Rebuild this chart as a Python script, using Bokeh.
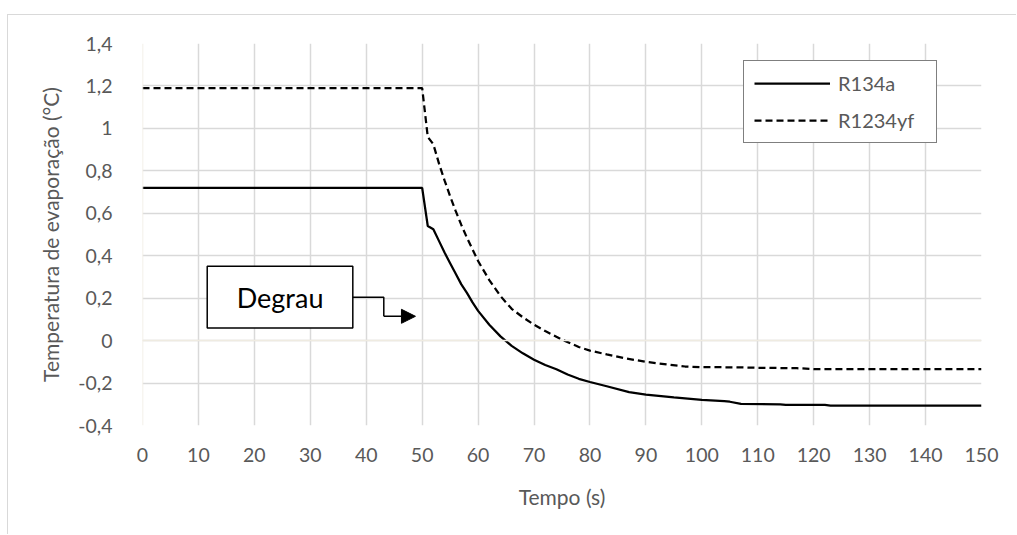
from bokeh.plotting import figure
from bokeh.models import (ColumnDataSource, FixedTicker, Legend, LegendItem, Span,
                          Arrow, NormalHead, Label)
from bokeh.embed import file_html
from bokeh.resources import INLINE

# Evaporation temperature response to a step at t = 50 s
t_r134a = [0, 50, 51, 52, 53, 54, 55, 56, 57, 58, 59, 60, 62, 64, 66, 68, 70, 72, 74,
           76, 78, 80, 83, 87, 90, 95, 100, 104, 105, 107, 114, 115, 122, 123, 150]
temp_r134a = [0.72, 0.72, 0.54, 0.525, 0.47, 0.415, 0.365, 0.315, 0.265, 0.225, 0.18,
              0.14, 0.075, 0.02, -0.025, -0.06, -0.09, -0.115, -0.135, -0.16, -0.18,
              -0.195, -0.215, -0.243, -0.254, -0.268, -0.279, -0.285, -0.288, -0.298,
              -0.300, -0.303, -0.303, -0.306, -0.306]

t_r1234yf = [0, 50, 51, 52, 53, 54, 55, 56, 57, 58, 59, 60, 62, 64, 66, 68, 70, 72, 75,
             78, 80, 83, 86, 90, 94, 97, 100, 107, 110, 117, 120, 150]
temp_r1234yf = [1.19, 1.19, 0.96, 0.925, 0.835, 0.755, 0.68, 0.61, 0.545, 0.485, 0.43,
                0.375, 0.285, 0.21, 0.15, 0.11, 0.075, 0.045, 0.005, -0.03, -0.047,
                -0.065, -0.082, -0.1, -0.113, -0.122, -0.125, -0.126, -0.128, -0.13,
                -0.134, -0.134]

x_ticks = [0, 10, 20, 30, 40, 50, 60, 70, 80, 90, 100, 110, 120, 130, 140, 150]
y_ticks = [-0.4, -0.2, 0, 0.2, 0.4, 0.6, 0.8, 1.0, 1.2, 1.4]
y_tick_labels = ["-0,4", "-0,2", "0", "0,2", "0,4", "0,6", "0,8", "1", "1,2", "1,4"]

FONT = "Lato"
GREY_TEXT = "#595959"
GRID = "#D9D9D9"
AXIS_LINE = "#EFEBE1"

p = figure(width=1009, height=520, x_range=(0, 150), y_range=(-0.4, 1.4),
           output_backend="svg", toolbar_location=None,
           min_border_left=134, min_border_right=36, min_border_top=28,
           min_border_bottom=110)
p.styles = {"margin-left": "7px", "margin-top": "14px",
            "border-left": "1px solid #D9D9D9", "border-top": "1px solid #D9D9D9"}
p.outline_line_color = None
p.background_fill_color = "white"
p.border_fill_color = "white"

# Axes
p.xaxis.ticker = FixedTicker(ticks=x_ticks)
p.yaxis.ticker = FixedTicker(ticks=y_ticks)
p.yaxis.major_label_overrides = dict(zip(y_ticks, y_tick_labels))
for ax in (p.xaxis[0], p.yaxis[0]):
    ax.axis_line_color = None
    ax.major_tick_line_color = None
    ax.minor_tick_line_color = None
    ax.major_label_text_font = FONT
    ax.major_label_text_font_size = "19.5px"
    ax.major_label_text_color = GREY_TEXT
    ax.axis_label_text_font = FONT
    ax.axis_label_text_font_size = "21px"
    ax.axis_label_text_font_style = "normal"
    ax.axis_label_text_color = GREY_TEXT
p.xaxis.axis_label = "Tempo (s)"
p.yaxis.axis_label = "Temperatura de evaporação (°C)"
p.xaxis.major_label_standoff = 16
p.xaxis.axis_label_standoff = 19
p.yaxis.major_label_standoff = 24
p.yaxis.axis_label_standoff = 12

p.xgrid.grid_line_color = GRID
p.ygrid.grid_line_color = GRID
p.xgrid.grid_line_width = 1.5
p.ygrid.grid_line_width = 1.5

# Axis lines crossing at zero
p.add_layout(Span(location=0, dimension="width", line_color=AXIS_LINE, line_width=1.5))
p.add_layout(Span(location=0, dimension="height", line_color=AXIS_LINE, line_width=1.5))

src_a = ColumnDataSource(dict(t=t_r134a, temp=temp_r134a))
src_b = ColumnDataSource(dict(t=t_r1234yf, temp=temp_r1234yf))
r_a = p.line("t", "temp", source=src_a, line_color="black", line_width=2.25)
r_b = p.line("t", "temp", source=src_b, line_color="black", line_width=2.25,
             line_dash="7 4")

legend = Legend(items=[LegendItem(label="R134a", renderers=[r_a]),
                       LegendItem(label="R1234yf", renderers=[r_b])],
                location=(601, 282), orientation="vertical",
                border_line_color="black", border_line_width=1.3,
                background_fill_color="white", background_fill_alpha=1,
                label_text_font=FONT, label_text_font_size="20px",
                label_text_color=GREY_TEXT, padding=10, spacing=13, margin=0,
                glyph_width=76, glyph_height=20, label_height=20, label_standoff=8,
                label_width=88)
p.add_layout(legend, "center")

# "Degrau" callout with connector to the step
p.quad(left=[11.57], right=[37.6], bottom=[0.06], top=[0.35], fill_color="white",
       line_color="black", line_width=1.5)
p.add_layout(Label(x=24.6, y=0.205, text="Degrau", text_font=FONT,
                   text_font_size="27px", text_color="black", text_align="center",
                   text_baseline="middle"))
p.line([37.6, 43.14, 43.14], [0.204, 0.204, 0.1145], line_color="black", line_width=1.5)
p.add_layout(Arrow(end=NormalHead(size=14, fill_color="black", line_color="black"),
                   x_start=43.14, y_start=0.1145, x_end=48.8, y_end=0.1145,
                   line_color="black", line_width=1.5))

open("out.html", "w").write(file_html(p, INLINE))
